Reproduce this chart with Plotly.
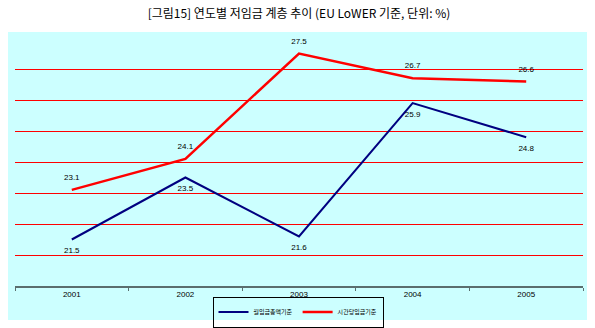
import plotly.graph_objects as go

years = ["2001", "2002", "2003", "2004", "2005"]
monthly_total = [21.5, 23.5, 21.6, 25.9, 24.8]   # 월임금총액기준
hourly_wage = [23.1, 24.1, 27.5, 26.7, 26.6]     # 시간당임금기준
series_names = ["월임금총액기준", "시간당임금기준"]
title_text = "[그림15] 연도별 저임금 계층 추이 (EU LoWER 기준, 단위: %)"

CYAN = "#CCFFFF"
NAVY = "#000080"
RED = "rgb(255,0,0)"
CLEAR = "rgba(0,0,0,0)"
lab_font = dict(family="Liberation Sans, Arial, sans-serif", size=8, color="#000000")

fig = go.Figure()
fig.add_trace(go.Scatter(
    x=years, y=monthly_total, name=series_names[0], mode="lines+markers+text",
    line=dict(color=NAVY, width=2),
    marker=dict(size=11, color=CLEAR, line=dict(width=0, color=CLEAR)),
    text=[f"{v:.1f}" for v in monthly_total], textposition="bottom center",
    textfont=lab_font, cliponaxis=False,
))
fig.add_trace(go.Scatter(
    x=years, y=hourly_wage, name=series_names[1], mode="lines+markers+text",
    line=dict(color=RED, width=2.5),
    marker=dict(size=11, color=CLEAR, line=dict(width=0, color=CLEAR)),
    text=[f"{v:.1f}" for v in hourly_wage], textposition="top center",
    textfont=lab_font, cliponaxis=False,
))

W, H = 595, 328
L, R, T, B = 15, 12, 38, 42
pw, ph = W - L - R, H - T - B

def px2x(p):
    return (p - L) / pw

def px2y(p):
    return (H - B - p) / ph

fig.add_shape(type="rect", xref="paper", yref="paper",
              x0=px2x(8), x1=px2x(587), y0=px2y(320), y1=px2y(32),
              fillcolor=CYAN, line=dict(width=0), layer="below")

fig.update_layout(
    width=W, height=H,
    margin=dict(l=L, r=R, t=T, b=B, autoexpand=False),
    paper_bgcolor="white", plot_bgcolor=CYAN,
    title=dict(text=title_text, x=0.5, xref="paper", xanchor="center",
               y=1 - 14 / H, yref="container", yanchor="middle",
               font=dict(family="Noto Sans CJK KR", size=12, color="#000000")),
    showlegend=True,
    legend=dict(orientation="h", x=px2x(298), xanchor="center",
                yref="container", y=(H - 312) / H, yanchor="middle",
                bgcolor="rgba(0,0,0,0)", bordercolor="#000000", borderwidth=1,
                font=dict(family="Noto Sans CJK KR", size=6, color="#000000"),
                itemwidth=30, tracegroupgap=0),
    xaxis=dict(type="category", range=[-0.5, 4.5], showgrid=False, showline=True,
               linecolor="#5A6E6E", linewidth=1.5,
               ticks="outside", tickson="boundaries", ticklen=3,
               tickcolor="#5A6E6E", tickfont=lab_font, fixedrange=True),
    yaxis=dict(range=[20, 28], dtick=1, showgrid=True, gridcolor=RED,
               gridwidth=1, zeroline=False, showticklabels=False,
               showline=False, ticks="", fixedrange=True),
)

fig.write_html("out.html")
